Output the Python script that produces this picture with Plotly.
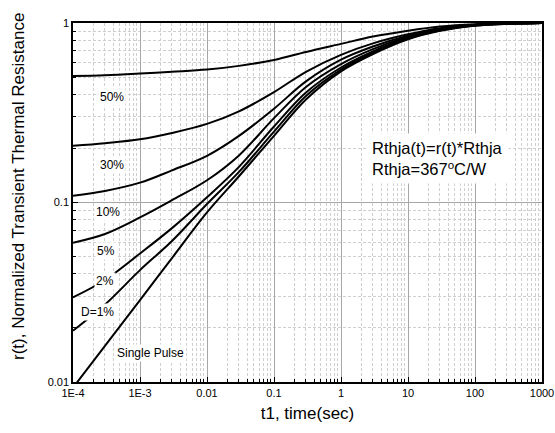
import plotly.graph_objects as go

# time points (s)
t = [1e-4, 3e-4, 1e-3, 3e-3, 1e-2, 3e-2, 0.1, 0.3, 1, 3, 10, 30, 100, 300, 1000]

d50 = [0.507, 0.512, 0.523, 0.535, 0.550, 0.577, 0.622, 0.69, 0.765, 0.84, 0.905, 0.955, 0.985, 0.996, 1.0]
d30 = [0.207, 0.214, 0.225, 0.244, 0.274, 0.322, 0.412, 0.535, 0.665, 0.77, 0.865, 0.935, 0.978, 0.994, 1.0]
d10 = [0.109, 0.116, 0.129, 0.151, 0.182, 0.235, 0.333, 0.473, 0.625, 0.74, 0.85, 0.925, 0.975, 0.993, 1.0]
d05 = [0.0597, 0.0668, 0.0826, 0.103, 0.133, 0.183, 0.295, 0.44, 0.59, 0.715, 0.835, 0.918, 0.972, 0.992, 1.0]
d02 = [0.0296, 0.037, 0.052, 0.072, 0.107, 0.158, 0.265, 0.41, 0.565, 0.695, 0.825, 0.912, 0.97, 0.991, 1.0]
d01 = [0.0193, 0.027, 0.042, 0.061, 0.098, 0.148, 0.248, 0.392, 0.55, 0.683, 0.818, 0.908, 0.968, 0.99, 1.0]
single = [0.0093, 0.0159, 0.0286, 0.049, 0.088, 0.14, 0.235, 0.375, 0.538, 0.672, 0.812, 0.905, 0.966, 0.99, 1.0]

series = [("50%", d50), ("30%", d30), ("10%", d10), ("5%", d05),
          ("2%", d02), ("D=1%", d01), ("Single Pulse", single)]

x_tickvals = [1e-4, 1e-3, 1e-2, 1e-1, 1, 10, 100, 1000]
x_ticktext = ["1E-4", "1E-3", "0.01", "0.1", "1", "10", "100", "1000"]
y_tickvals = [0.01, 0.1, 1]
y_ticktext = ["0.01", "0.1", "1"]
minor_digits = [2, 3, 4, 5, 6, 7, 8, 9]

x_minor = [d * dec for dec in x_tickvals[:-1] for d in minor_digits]
y_minor = [d * dec for dec in y_tickvals[:-1] for d in minor_digits]

FONT = "Liberation Sans, Arial, sans-serif"

fig = go.Figure()
for name, vals in series:
    fig.add_trace(go.Scatter(x=t, y=vals, mode="lines", name=name,
                             line=dict(color="black", width=2, shape="spline", smoothing=1.0),
                             showlegend=False, hoverinfo="skip"))


def axis_common(minor_vals):
    return dict(
        type="log", automargin=False,
        showline=True, linecolor="black", linewidth=1.5, mirror=True,
        ticks="inside", ticklen=5, tickcolor="black", tickwidth=1,
        showgrid=True, gridcolor="#a6a6a6", gridwidth=1,
        zeroline=False,
        tickfont=dict(family=FONT, size=11, color="black"),
        minor=dict(tickmode="array", tickvals=minor_vals,
                   ticks="inside", ticklen=3, tickcolor="black",
                   showgrid=True, gridcolor="#cfcfcf", gridwidth=1, griddash="3px,2px"),
    )


fig.update_xaxes(**axis_common(x_minor), range=[-4, 3], tickmode="array",
                 tickvals=x_tickvals, ticktext=x_ticktext,
                 title=dict(text="t1, time(sec)", font=dict(family=FONT, size=17, color="black"),
                            standoff=9))
fig.update_yaxes(**axis_common(y_minor), range=[-2, 0], tickmode="array",
                 tickvals=y_tickvals, ticktext=y_ticktext)

# y-axis title
fig.add_annotation(text="r(t), Normalized Transient Thermal Resistance",
                   x=-55 / 469, y=(382 - 187) / 359, xref="paper", yref="paper",
                   xanchor="center", yanchor="middle", textangle=-90,
                   showarrow=False, font=dict(family=FONT, size=17, color="black"))

labels = [
    ("50%", 0.083, 0.794),
    ("30%", 0.083, 0.604),
    ("10%", 0.075, 0.474),
    ("5%", 0.070, 0.365),
    ("2%", 0.068, 0.281),
    ("D=1%", 0.053, 0.195),
    ("Single Pulse", 0.166, 0.081),
]
for txt, xp, yp in labels:
    fig.add_annotation(text=txt, x=xp, y=yp, xref="paper", yref="paper",
                       xanchor="center", yanchor="middle",
                       showarrow=False, bgcolor="white", borderpad=1,
                       font=dict(family=FONT, size=12, color="black"))

fig.add_annotation(text="Rthja(t)=r(t)*Rthja<br>Rthja=367<sup>o</sup>C/W",
                   x=(366 - 73) / 469, y=(382 - 158) / 359, xref="paper", yref="paper",
                   xanchor="left", yanchor="middle", align="left",
                   showarrow=False, bgcolor="white", borderpad=5,
                   font=dict(family=FONT, size=16.5, color="black"))

fig.update_layout(width=555, height=433, autosize=False,
                  margin=dict(l=73, r=13, t=23, b=51, autoexpand=False),
                  paper_bgcolor="white", plot_bgcolor="white")

fig.write_html("out.html", config={"displayModeBar": False},
               post_script="document.body.style.margin='0px';document.body.style.padding='0px';")
